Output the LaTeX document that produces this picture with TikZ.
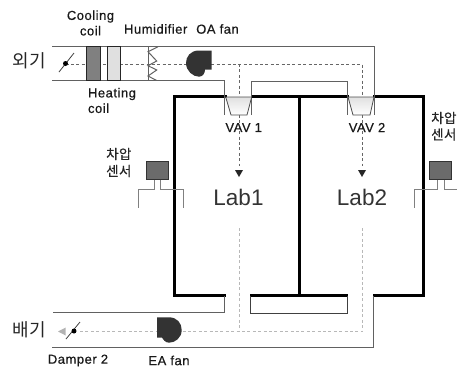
\documentclass[tikz,border=0pt]{standalone}
\usepackage{fontspec}
\setmainfont{Liberation Sans}
\newfontfamily\lblfont[FakeBold=0.6,LetterSpace=4]{Liberation Sans}
\newfontfamily\krfont{Noto Sans CJK KR}
\newfontfamily\krbold[FakeBold=0.5,LetterSpace=3]{Noto Sans CJK KR}
\begin{document}
\begin{tikzpicture}[x=1pt,y=-1pt,
  duct/.style={draw=black!62,line width=1pt},
  wall/.style={draw=black,line width=3pt},
  flow/.style={draw=black!60,line width=0.9pt,dash pattern=on 3pt off 2.4pt},
  ret/.style={draw=black!28,line width=0.9pt,dash pattern=on 3pt off 2.4pt},
  coil/.style={draw=black!85,line width=1pt},
  lead/.style={draw=black!50,line width=1pt},
  sensorbox/.style={draw=black!80,fill=black!58,line width=0.9pt},
  vavbody/.style={draw=black!70,line width=0.8pt,top color=black!12,bottom color=white},
  lbl/.style={inner sep=0pt,font=\fontsize{13}{15.5}\selectfont\lblfont,text=black!90,align=center},
  kr/.style={inner sep=0pt,font=\fontsize{18}{20}\selectfont\krfont,text=black!85},
  krs/.style={inner sep=0pt,font=\fontsize{13.5}{17}\selectfont\krbold,text=black!85},
  lab/.style={inner sep=0pt,font=\fontsize{22.5}{26}\selectfont\rmfamily,text=black!80}]
\useasboundingbox (0,0) rectangle (457,368);
% flow lines
\draw[flow] (65.5,64) -- (362,64) -- (362,96);
\draw[flow] (239,64) -- (239,96);
\draw[flow] (239,115) -- (239,166);
\draw[flow] (362,115) -- (362,166);
\fill[black!85] (235,170) -- (243,170) -- (239,177) -- cycle;
\fill[black!85] (358,170) -- (366,170) -- (362,177) -- cycle;
\draw[ret] (239,228) -- (239,331.5);
\draw[ret] (362,228) -- (362,331.5);
\draw[ret] (80,331.5) -- (362,331.5);
% walls
\draw[wall,line cap=rect] (225,96.5) -- (174,96.5) -- (174,295) -- (224,295);
\draw[wall] (251,96.5) -- (349,96.5);
\draw[wall,line cap=butt] (373,96.5) -- (423,96.5) -- (423,295) -- (373,295);
\draw[wall] (299,96.5) -- (299,295);
\draw[wall] (250,295) -- (348,295);
% ducts
\draw[duct] (52,46.5) -- (374,46.5) -- (374,115);
\draw[duct] (52,80.5) -- (224,80.5) -- (224,115);
\draw[duct] (251.7,115) -- (251.7,81) -- (347.7,81) -- (347.7,115);
\draw[duct] (53,312.7) -- (224,312.7) -- (224,296);
\draw[duct] (52,347.7) -- (373,347.7) -- (373,296);
\draw[draw=black!75,line width=0.9pt] (250.5,296) -- (250.5,313.5) -- (347.7,313.5) -- (347.7,296);
% VAV
\path[vavbody] (225.7,97) -- (251.7,97) -- (247,115) -- (231,115) -- cycle;
\path[vavbody] (348,97) -- (374,97) -- (370,115) -- (353,115) -- cycle;
% coils
\path[coil,fill=black!50] (86,46.5) rectangle (100,80.5);
\path[coil,fill=black!12] (107.5,46.5) rectangle (120.5,80.5);
% humidifier
\draw[duct] (148,46.5) -- (148,80.5);
\draw[duct] (158,46.7) -- (148,51.7) -- (156.7,61) -- (148,65.7) -- (156.7,70) -- (148,76) -- (156.7,80.5);
% OA fan
\fill[black!80] (211.7,50.5) -- (199,50.5) .. controls (190,50.5) and (186,57) .. (186,63) .. controls (186,71) and (193,76.7) .. (199,76.7) .. controls (203,76.7) and (205,73) .. (205,69.5) -- (211.7,69.5) -- cycle;
% EA fan
\fill[black!80] (157,317.3) -- (169,317.3) .. controls (177,317.3) and (181.7,323) .. (181.7,330) .. controls (181.7,338) and (175,342.7) .. (169,342.7) .. controls (165,342.7) and (163,339) .. (162,337.5) -- (157,337.5) -- cycle;
% dampers
\draw[black!75,line width=0.8pt] (59,72) -- (74,53);
\fill[black] (65.5,63.5) circle (2.5);
\fill[black!30] (58,331.5) -- (65.7,327.5) -- (65.7,335.5) -- cycle;
\draw[black!75,line width=0.8pt] (66,339) -- (80,322);
\fill[black] (74,331) circle (2.5);
% sensors
\draw[lead] (154,179) -- (154,189) -- (138,189) -- (138,208);
\draw[lead] (160.7,179) -- (160.7,189) -- (183,189) -- (183,208);
\path[sensorbox] (146,161) rectangle (168.7,179.5);
\draw[lead] (437.7,179) -- (437.7,189) -- (414,189) -- (414,208);
\draw[lead] (444,179) -- (444,189) -- (457,189);
\path[sensorbox] (429,161) rectangle (451.7,179.5);
% labels
\node[kr] (oa) at (29.5,61) {외기};
\node[kr] (ex) at (29.5,330) {배기};
\node[lbl] (cool) at (90.5,23) {Cooling\\coil};
\node[lbl,align=left] (heat) at (112,100.5) {Heating\\coil};
\node[lbl] (humi) at (155.7,29) {Humidifier};
\node[lbl] (oaf) at (217.5,29) {OA fan};
\node[lbl] (vav1) at (243.7,127.5) {VAV 1};
\node[lbl] (vav2) at (367,127.5) {VAV 2};
\node[lbl] (dmp) at (78,360.5) {Damper 2};
\node[lbl] (eaf) at (169,360.5) {EA fan};
\node[lab] (l1) at (238.5,197.5) {Lab1};
\node[lab] (l2) at (362,197.5) {Lab2};
\node[krs,anchor=west] (s1) at (106,154) {차압};
\node[krs,anchor=west] (s1b) at (106,171) {센서};
\node[krs,anchor=west] (s2) at (431,118) {차압};
\node[krs,anchor=west] (s2b) at (431,134.5) {센서};
\end{tikzpicture}
\end{document}
